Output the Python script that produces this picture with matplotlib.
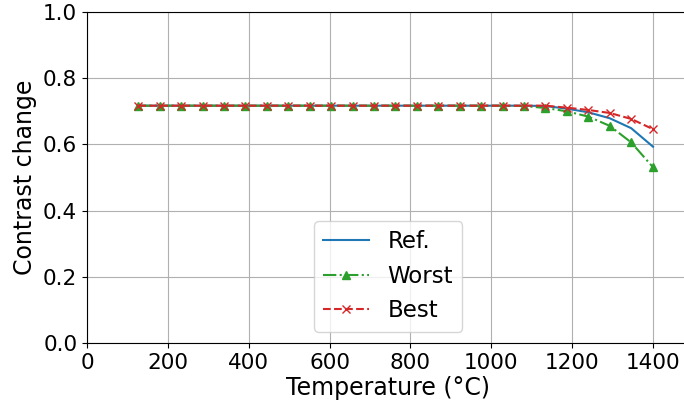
import matplotlib
matplotlib.use("Agg")
import matplotlib.pyplot as plt

temps = [127, 180, 233, 286, 339, 392, 445, 498, 551, 604, 657, 710, 763,
         816, 869, 922, 975, 1028, 1081, 1134, 1187, 1240, 1293, 1346, 1400]
ref = [0.717] * 19 + [0.716, 0.708, 0.697, 0.679, 0.649, 0.593]
worst = [0.717] * 18 + [0.716, 0.710, 0.700, 0.684, 0.656, 0.606, 0.531]
best = [0.717] * 20 + [0.711, 0.704, 0.695, 0.677, 0.646]

fig = plt.figure(figsize=(6.84, 4.07), dpi=100)
ax = fig.add_axes([0.1272, 0.1572, 0.8807, 0.8133])

ax.plot(temps, ref, color="tab:blue", linestyle="-", label="Ref.")
ax.plot(temps, worst, color="tab:green", linestyle="-.", marker="^",
        markersize=6, label="Worst")
ax.plot(temps, best, color="tab:red", linestyle="--", marker="x",
        markersize=6, label="Best")

ax.set_xlim(0, 1490)
ax.set_ylim(0.0, 1.0)
ax.set_xticks([0, 200, 400, 600, 800, 1000, 1200, 1400])
ax.set_yticks([0.0, 0.2, 0.4, 0.6, 0.8, 1.0])
ax.grid(True, color="#b0b0b0", linewidth=0.8)
ax.tick_params(labelsize=15.5)
ax.set_xlabel("Temperature (°C)", fontsize=17, labelpad=2)
ax.set_ylabel("Contrast change", fontsize=17)
ax.legend(loc="lower center", fontsize=16.5)

fig.savefig("out.png", dpi=100)
